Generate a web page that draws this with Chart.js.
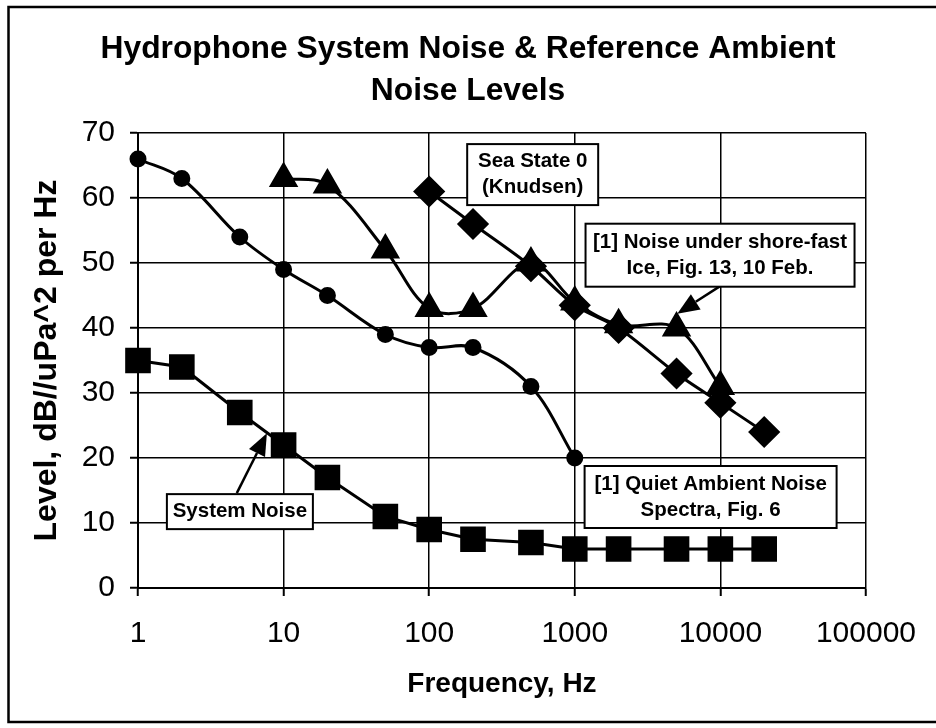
<!DOCTYPE html>
<html><head><meta charset="utf-8">
<script src="https://cdn.jsdelivr.net/npm/chart.js@4"></script>
<style>html,body{margin:0;padding:0;background:#fff}</style>
</head><body>
<canvas id="c" width="936" height="728"></canvas>
<script>
// ---- data ----
const quietFreq  = [1, 2, 5, 10, 20, 50, 100, 200, 500, 1000];
const quietLevel = [66, 63, 54, 49, 45, 39, 37, 37, 31, 20];
const iceFreq    = [10, 20, 50, 100, 200, 500, 1000, 2000, 5000, 10000];
const iceLevel   = [63, 62, 52, 43, 43, 50, 44, 40.5, 40, 31];
const seaFreq    = [100, 200, 500, 1000, 2000, 5000, 10000, 20000];
const seaLevel   = [61, 56, 49.5, 43.5, 40, 33, 28.5, 24];
const sysFreq    = [1, 2, 5, 10, 20, 50, 100, 200, 500, 1000, 2000, 5000, 10000, 20000];
const sysLevel   = [35, 34, 27, 22, 17, 11, 9, 7.5, 7, 6, 6, 6, 6, 6];
const xTickValues = [1, 10, 100, 1000, 10000, 100000];
const yTickValues = [0, 10, 20, 30, 40, 50, 60, 70];
const titleLines = ['Hydrophone System Noise & Reference Ambient', 'Noise Levels'];
const xTitle = 'Frequency, Hz';
const yTitle = 'Level, dB//uPa^2 per Hz';
const noteTexts = [
  ['Sea State 0', '(Knudsen)'],
  ['[1] Noise under shore-fast', 'Ice, Fig. 13, 10 Feb.'],
  ['[1] Quiet Ambient Noise', 'Spectra, Fig. 6'],
  ['System Noise']
];

const FONT = "'Liberation Sans', Arial, sans-serif";
const pts = (xs, ys) => xs.map((x, i) => ({x, y: ys[i]}));

// annotation placement (data-space anchor + pixel box size)
const noteAnchors = [
  {x: 514,  y: 63.6, w: 131, h: 61},
  {x: 9950, y: 51.2, w: 269, h: 63},
  {x: 8570, y: 14.0, w: 252, h: 62},
  {x: 5.01, y: 11.75, w: 146, h: 35}
];
const arrowAnchors = [
  {from: [4.77, 14.6], to: [7.68, 23.8]},
  {from: [9900, 46.4], to: [5057, 42.2]}
];

const notesPlugin = {
  id: 'notes',
  beforeDraw(chart) {
    const ctx = chart.ctx;
    ctx.save();
    ctx.fillStyle = '#fff';
    ctx.fillRect(0, 0, chart.width, chart.height);
    ctx.restore();
  },
  afterDraw(chart) {
    const ctx = chart.ctx;
    const xs = chart.scales.x, ys = chart.scales.y;
    ctx.save();
    // outer frame
    ctx.strokeStyle = '#000';
    ctx.lineWidth = 2.5;
    ctx.strokeRect(8.5, 7, chart.width + 10, 715);
    // arrows
    arrowAnchors.forEach(a => {
      const x1 = xs.getPixelForValue(a.from[0]), y1 = ys.getPixelForValue(a.from[1]);
      const x2 = xs.getPixelForValue(a.to[0]), y2 = ys.getPixelForValue(a.to[1]);
      const ang = Math.atan2(y2 - y1, x2 - x1);
      const L = 22, W = 9;
      const bx = x2 - Math.cos(ang) * L, by = y2 - Math.sin(ang) * L;
      ctx.beginPath();
      ctx.moveTo(x1, y1); ctx.lineTo(bx, by);
      ctx.lineWidth = 2.5; ctx.stroke();
      ctx.beginPath();
      ctx.moveTo(x2, y2);
      ctx.lineTo(bx + Math.sin(ang) * W, by - Math.cos(ang) * W);
      ctx.lineTo(bx - Math.sin(ang) * W, by + Math.cos(ang) * W);
      ctx.closePath();
      ctx.fillStyle = '#000'; ctx.fill();
    });
    // boxes
    ctx.font = 'bold 20.5px ' + FONT;
    ctx.textAlign = 'center';
    ctx.textBaseline = 'middle';
    noteAnchors.forEach((n, i) => {
      const cx = xs.getPixelForValue(n.x), cy = ys.getPixelForValue(n.y);
      ctx.fillStyle = '#fff';
      ctx.fillRect(cx - n.w / 2, cy - n.h / 2, n.w, n.h);
      ctx.lineWidth = 2;
      ctx.strokeStyle = '#000';
      ctx.strokeRect(cx - n.w / 2, cy - n.h / 2, n.w, n.h);
      ctx.fillStyle = '#000';
      const lines = noteTexts[i];
      const lh = 26;
      lines.forEach((t, k) => {
        ctx.fillText(t, cx, cy - (lines.length - 1) * lh / 2 + k * lh);
      });
    });
    ctx.restore();
  }
};

const common = {borderColor: '#000', backgroundColor: '#000', pointBackgroundColor: '#000',
  pointBorderColor: '#000', borderWidth: 3, clip: false, showLine: true, yAxisID: 'y'};

new Chart(document.getElementById('c'), {
  type: 'scatter',
  data: {
    datasets: [
      Object.assign({label: 'Quiet Ambient', data: pts(quietFreq, quietLevel), pointStyle: 'circle', pointRadius: 7, tension: 0.35}, common),
      Object.assign({label: 'Shore-fast ice', data: pts(iceFreq, iceLevel), pointStyle: 'triangle', pointRadius: 14, tension: 0.35}, common),
      Object.assign({label: 'Sea State 0', data: pts(seaFreq, seaLevel), pointStyle: 'rectRot', pointRadius: 14, tension: 0.3}, common),
      Object.assign({label: 'System Noise', data: pts(sysFreq, sysLevel), pointStyle: 'rect', pointRadius: 16, tension: 0}, common)
    ]
  },
  options: {
    responsive: false,
    animation: false,
    devicePixelRatio: 1,
    layout: {padding: 0},
    plugins: {
      legend: {display: false},
      tooltip: {enabled: false},
      title: {
        display: true, text: titleLines, color: '#000',
        font: {family: FONT, size: 31.8, weight: 'bold', lineHeight: 42 / 31.8},
        padding: {top: 28, bottom: 21}
      }
    },
    scales: {
      x: {
        type: 'logarithmic', min: 1, max: 100000,
        afterBuildTicks: s => { s.ticks = xTickValues.map(v => ({value: v})); },
        afterFit: s => { s.height = 140; },
        ticks: {color: '#000', font: {family: FONT, size: 30}, padding: 20, maxRotation: 0, autoSkip: false,
          callback: v => String(v)},
        grid: {color: '#000', lineWidth: 1.5, tickLength: 8, tickColor: '#000', tickWidth: 2},
        border: {color: '#000', width: 2},
        title: {display: true, text: xTitle, color: '#000', font: {family: FONT, size: 28, weight: 'bold'}, padding: {top: 0, bottom: 27}}
      },
      y: {
        min: 0, max: 70,
        afterBuildTicks: s => { s.ticks = yTickValues.map(v => ({value: v})); },
        afterFit: s => { s.width = 138; },
        ticks: {color: '#000', font: {family: FONT, size: 30}, padding: 15, callback: v => String(v)},
        grid: {color: '#000', lineWidth: 1.5, tickLength: 8, tickColor: '#000', tickWidth: 2},
        border: {color: '#000', width: 2},
        title: {display: true, text: yTitle, color: '#000', font: {family: FONT, size: 32, weight: 'bold'}, padding: {top: 28, bottom: 0}}
      },
      yRight: {
        position: 'right', display: true,
        afterFit: s => { s.width = 69; },
        grid: {display: false, drawTicks: false},
        ticks: {display: false},
        border: {display: false}
      }
    }
  },
  plugins: [notesPlugin]
});
</script>
</body></html>
